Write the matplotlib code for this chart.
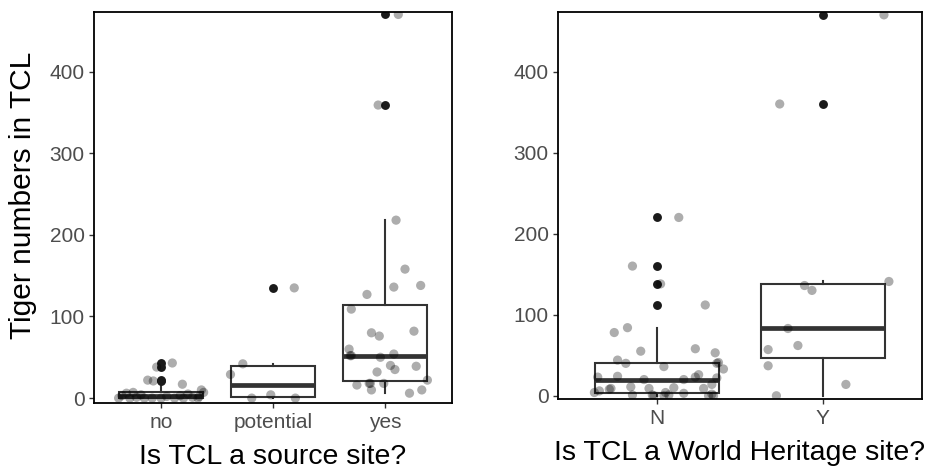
import numpy as np
import matplotlib.pyplot as plt

plt.rcParams['font.family'] = ['Liberation Sans', 'DejaVu Sans']

# tiger counts per TCL, grouped by source-site status
source_labels = ['no', 'potential', 'yes']
no_vals = [43, 38, 22, 21, 17, 10, 7, 7, 6, 5, 4, 3, 3, 2, 2, 1, 1, 0, 0, 0, 0, 0, 0, 0, 0]
no_jit = [0.10, -0.04, -0.12, -0.07, 0.19, 0.36, 0.38, -0.25, -0.31, 0.24, -0.18, 0.17, -0.35,
          0.05, 0.34, -0.22, 0.28, -0.38, -0.28, -0.15, -0.08, 0.0, 0.12, 0.20, 0.33]
potential_vals = [135, 42, 29, 4, 0, 0]
potential_jit = [0.19, -0.27, -0.38, -0.02, -0.19, 0.20]
yes_vals = [470, 359, 218, 158, 138, 136, 127, 109, 82, 80, 76, 60, 54, 52, 52, 50, 40, 39,
            35, 32, 22, 18, 18, 18, 16, 10, 10, 6]
yes_jit = [0.12, -0.06, 0.10, 0.18, 0.32, 0.08, -0.16, -0.30, 0.26, -0.12, -0.05, -0.32, 0.08,
           -0.31, -0.30, -0.04, 0.05, 0.28, 0.09, -0.07, 0.38, -0.01, -0.14, -0.13, -0.25,
           -0.12, 0.33, 0.22]

# tiger counts per TCL, grouped by World Heritage status
heritage_labels = ['N', 'Y']
n_vals = [220, 160, 138, 112, 84, 78, 58, 55, 53, 44, 41, 40, 40, 36, 33, 26, 24, 23, 23, 22,
          20, 20, 14, 11, 10, 9, 9, 9, 8, 6, 4, 4, 3, 2, 1, 1, 1, 0, 0, 0, 0]
n_jit = [0.13, -0.15, 0.02, 0.29, -0.18, -0.26, 0.23, -0.10, 0.35, -0.24, 0.37, -0.19, 0.36,
         0.04, 0.40, 0.25, -0.24, -0.36, 0.23, 0.36, -0.08, 0.16, 0.33, -0.16, 0.10, -0.05,
         0.28, -0.28, -0.29, -0.35, -0.38, 0.05, 0.16, 0.33, -0.15, -0.03, 0.07, 0.31, 0.34,
         0.04, -0.02]
y_vals = [470, 360, 141, 136, 130, 83, 62, 57, 37, 14, 0]
y_jit = [0.37, -0.26, 0.40, -0.11, -0.065, -0.21, -0.15, -0.33, -0.33, 0.14, -0.28]

yticks = [0, 100, 200, 300, 400]


def draw_panel(ax, groups, jitters, labels, ylim):
    pos = np.arange(1, len(groups) + 1)
    ax.boxplot(groups, positions=pos, widths=0.75, whis=1.5, showcaps=False,
               patch_artist=True,
               boxprops=dict(facecolor='white', edgecolor='#333333', linewidth=1.5),
               whiskerprops=dict(color='#333333', linewidth=1.5),
               medianprops=dict(color='#333333', linewidth=3.4, solid_capstyle='butt'),
               flierprops=dict(marker='o', markerfacecolor='#1a1a1a',
                               markeredgecolor='none', markersize=6.4))
    for p, vals, off in zip(pos, groups, jitters):
        ax.scatter(p + np.array(off), vals, s=44, color='black', alpha=0.32,
                   edgecolors='none', zorder=4)
    ax.set_xlim(0.4, len(groups) + 0.6)
    ax.set_ylim(*ylim)
    ax.set_xticks(pos, labels)
    ax.set_yticks(yticks)
    ax.tick_params(length=3.6, width=1.0, color='#333333', labelcolor='#4d4d4d',
                   labelsize=15)
    ax.tick_params(axis='y', pad=3.0)
    ax.tick_params(axis='x', pad=3.5)
    for s in ax.spines.values():
        s.set_linewidth(1.3)
        s.set_color('black')


fig = plt.figure(figsize=(9.3, 4.7), dpi=100)
ax1 = fig.add_axes([94 / 930, 1 - 403 / 470, 358 / 930, 391 / 470])
ax2 = fig.add_axes([558 / 930, 1 - 399 / 470, 364 / 930, 387 / 470])

draw_panel(ax1, [no_vals, potential_vals, yes_vals], [no_jit, potential_jit, yes_jit],
           source_labels, (-6, 473))
draw_panel(ax2, [n_vals, y_vals], [n_jit, y_jit], heritage_labels, (-4, 473.5))

fig.text(23 / 930, 1 - 195 / 470, 'Tiger numbers in TCL', rotation=90,
         ha='center', va='center', fontsize=21.5)
fig.text(273 / 930, 1 - 464 / 470, 'Is TCL a source site?', ha='center',
         va='baseline', fontsize=20.5)
fig.text(740 / 930, 1 - 460 / 470, 'Is TCL a World Heritage site?', ha='center',
         va='baseline', fontsize=20.5)

fig.savefig('out.png', dpi=100)
